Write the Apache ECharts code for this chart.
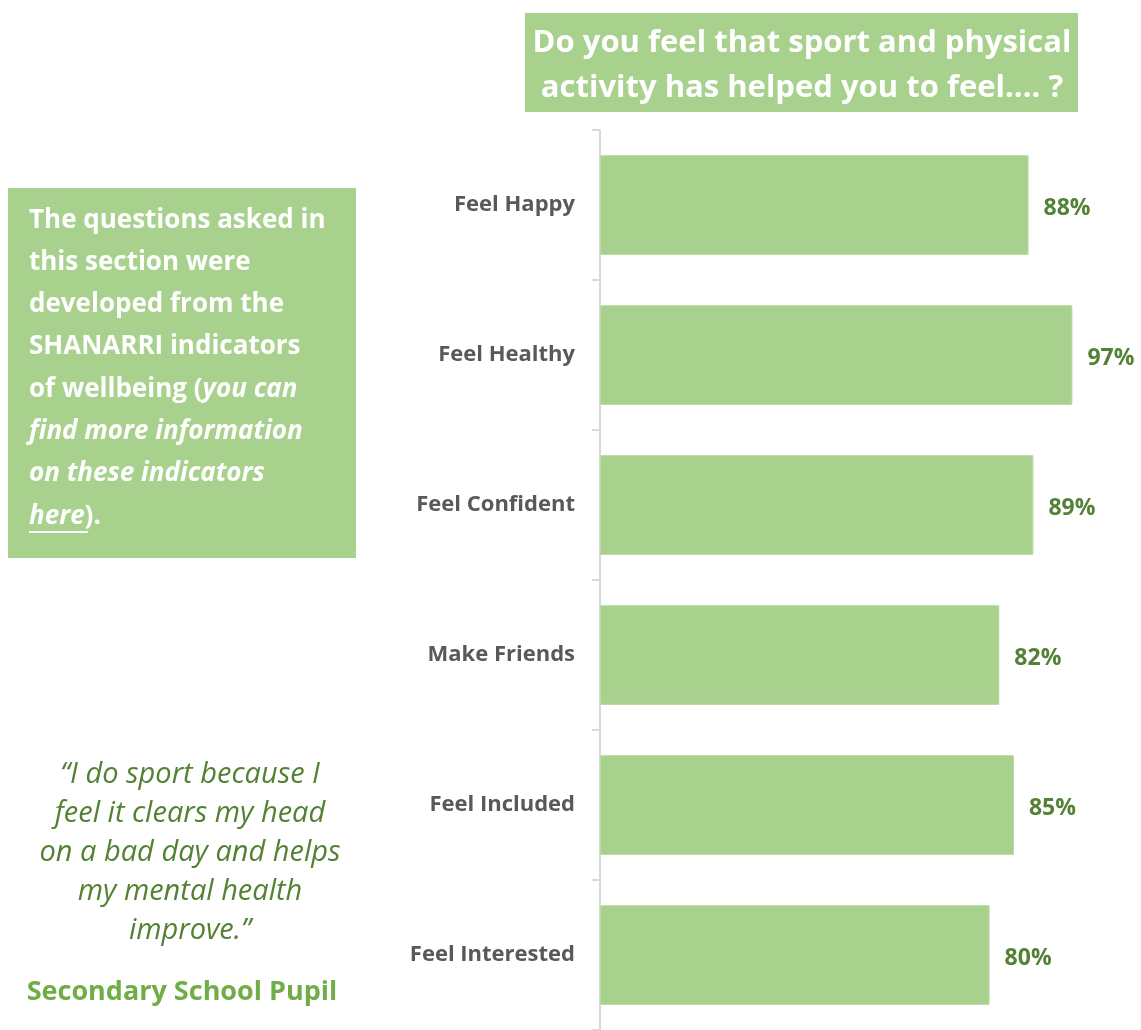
<!DOCTYPE html>
<html>
<head>
<meta charset="utf-8">
<script src="https://cdn.jsdelivr.net/npm/echarts@6/dist/echarts.min.js"></script>
<style>
  html, body { margin: 0; padding: 0; background: #ffffff; }
  #chart { width: 1141px; height: 1030px; }
</style>
</head>
<body>
<div id="chart"></div>
<script>
// Survey responses: share of pupils who said sport helped them feel...
const categories = ['Feel Happy', 'Feel Healthy', 'Feel Confident', 'Make Friends', 'Feel Included', 'Feel Interested'];
const percentages = [88, 97, 89, 82, 85, 80];

const titleLines = ['Do you feel that sport and physical', 'activity has helped you to feel.... ?'];
const quoteLines = ['\u201cI do sport because I', 'feel it clears my head', 'on a bad day and helps', 'my mental health', 'improve.\u201d'];
const quoteAuthor = 'Secondary School Pupil';

const FONT = '"Open Sans", Lato, sans-serif';
const BAR_GREEN = '#a9d18e';
const DARK_GREEN = '#548235';

const chart = echarts.init(document.getElementById('chart'), null, { renderer: 'canvas' });

const infoText = [
  '{n|The questions asked in}',
  '{n|this section were}',
  '{n|developed from the}',
  '{n|SHANARRI indicators}',
  '{n|of wellbeing (}{i|you can}',
  '{i|find more information}',
  '{i|on these indicators}',
  '{i|here}{n|).}'
].join('\n');

const option = {
  backgroundColor: '#ffffff',
  animation: false,
  grid: { left: 600, top: 130, width: 487, height: 904, containLabel: false },
  xAxis: { type: 'value', min: 0, max: 100, show: false },
  yAxis: {
    type: 'category',
    data: categories,
    inverse: true,
    axisLine: { show: true, lineStyle: { color: '#d9d9d9', width: 2 } },
    axisTick: { show: true, length: 8, lineStyle: { color: '#d9d9d9', width: 2 } },
    axisLabel: { color: '#595959', fontFamily: FONT, fontWeight: 'bold', fontSize: 22, margin: 25, padding: [4, 0, 0, 0] }
  },
  series: [{
    type: 'bar',
    data: percentages,
    barCategoryGap: '33.5%',
    itemStyle: { color: BAR_GREEN, borderColor: '#b9dba3', borderWidth: 1 },
    label: {
      show: true,
      position: 'right',
      distance: 15,
      formatter: '{c}%',
      color: DARK_GREEN,
      fontFamily: FONT,
      fontWeight: 'bold',
      fontSize: 23,
      offset: [0, 3]
    }
  }],
  graphic: [
    // question heading box
    { type: 'rect', left: 525, top: 13, shape: { width: 553, height: 99 }, style: { fill: BAR_GREEN } },
    {
      type: 'text', x: 802, y: 66,
      style: {
        text: titleLines.join('\n'), fill: '#ffffff', font: 'bold 31px ' + FONT,
        align: 'center', verticalAlign: 'middle', lineHeight: 45
      }
    },
    // information box
    { type: 'rect', left: 8, top: 188, shape: { width: 348, height: 370 }, style: { fill: BAR_GREEN } },
    {
      type: 'text', x: 29, y: 199,
      style: {
        text: infoText, align: 'left', verticalAlign: 'top',
        rich: {
          n: { fill: '#ffffff', fontFamily: FONT, fontWeight: 'bold', fontSize: 26, lineHeight: 42.3 },
          i: { fill: '#ffffff', fontFamily: FONT, fontWeight: 'bold', fontStyle: 'italic', fontSize: 26, lineHeight: 42.3 }
        }
      }
    },
    { type: 'line', shape: { x1: 29, y1: 532, x2: 88, y2: 532 }, style: { stroke: '#ffffff', lineWidth: 2 } },
    // pupil quote
    {
      type: 'text', x: 190, y: 853,
      style: {
        text: quoteLines.join('\n'), fill: DARK_GREEN, font: 'italic 29px ' + FONT,
        align: 'center', verticalAlign: 'middle', lineHeight: 39
      }
    },
    {
      type: 'text', x: 182, y: 992,
      style: {
        text: quoteAuthor, fill: '#70ad47', font: 'bold 27px ' + FONT,
        align: 'center', verticalAlign: 'middle'
      }
    }
  ]
};

chart.setOption(option);
</script>
</body>
</html>
